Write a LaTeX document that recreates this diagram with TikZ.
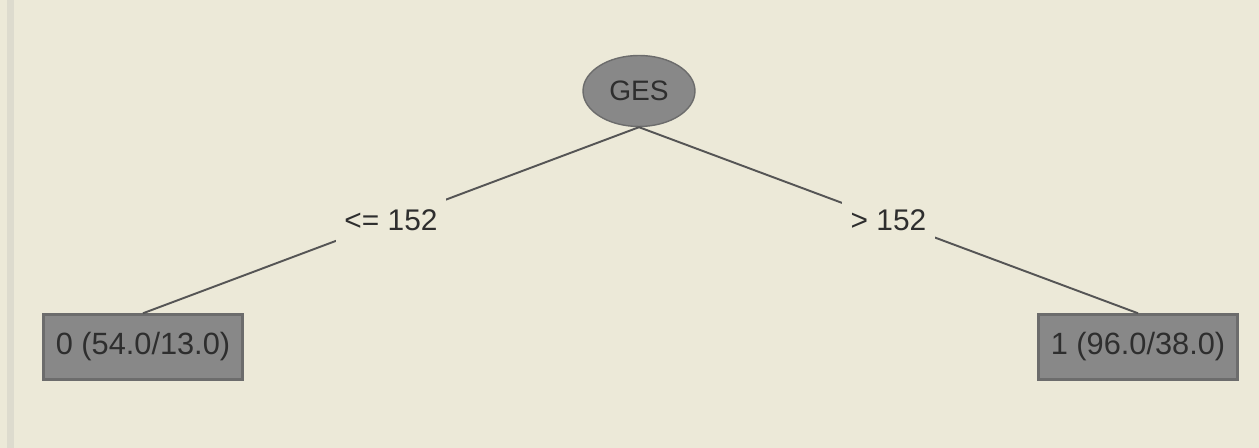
\documentclass[tikz,border=0pt]{standalone}
\usepackage{fontspec}
\setmainfont{Liberation Sans}
\usepackage{xcolor}
\usetikzlibrary{shapes}
\definecolor{panel}{HTML}{ECE9D8}
\definecolor{panelstrip}{HTML}{DDDBCE}
\definecolor{boxfill}{HTML}{888888}
\definecolor{boxedge}{HTML}{6C6C6C}
\definecolor{inkgray}{HTML}{2E2E2E}
\definecolor{edgegray}{HTML}{555555}
\tikzset{
		split node/.style={ellipse, draw=boxedge, fill=boxfill, line width=0.8pt, text=inkgray,
			minimum width=2.24cm, minimum height=1.42cm, inner sep=0pt, font=\fontsize{16}{18}\selectfont},
		leaf node/.style={rectangle, draw=boxedge, fill=boxfill, line width=1.4pt, text=inkgray,
			minimum width=3.98cm, minimum height=1.3cm, inner sep=0pt, font=\fontsize{17.5}{20}\selectfont},
		test label/.style={fill=panel, text=inkgray, minimum height=0.95cm,
			inner xsep=5pt, inner ysep=0pt, font=\fontsize{17}{20}\selectfont}
	}

\begin{document}
\begin{tikzpicture}[x=0.02cm, y=-0.02cm, line width=1.1pt]
				\fill[panel] (0,0) rectangle (1259,448);
				\fill[panelstrip] (7,0) rectangle (14,448);
				\useasboundingbox (0,0) rectangle (1259,448);

				\node[split node] (ges)   at (639,91)   {GES};
				\node[leaf node]  (leaf0) at (143,347)  {0 (54.0/13.0)};
				\node[leaf node]  (leaf1) at (1138,347) {1 (96.0/38.0)};

				\path[draw=edgegray] (ges.south) -- node[test label] {<= 152} (leaf0.north);
				\path[draw=edgegray] (ges.south) -- node[test label] {> 152}  (leaf1.north);
			\end{tikzpicture}
\end{document}
